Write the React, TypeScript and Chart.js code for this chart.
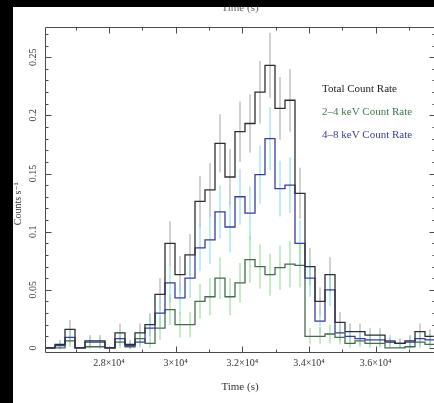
import React, { useEffect, useRef } from "react";
import { Chart, registerables } from "chart.js";

Chart.register(...registerables);

// ---- data (time bins in s, rates in counts/s) ----
const binStart = [
  26080, 26380, 26680, 26980, 27280, 27580, 27880, 28180, 28480, 28780,
  29080, 29380, 29680, 29980, 30280, 30580, 30880, 31180, 31480, 31780,
  32080, 32380, 32680, 32980, 33280, 33580, 33880, 34180, 34480, 34780,
  35080, 35380, 35680, 35980, 36280, 36580, 36880, 37180, 37480,
];
const BIN_WIDTH = 300;

const totalRate = [
  0, 0.003, 0.016, 0, 0.006, 0.006, 0, 0.013, 0.003, 0.013,
  0.020, 0.046, 0.090, 0.063, 0.080, 0.126, 0.136, 0.176, 0.147, 0.186,
  0.193, 0.220, 0.243, 0.206, 0.213, 0.133, 0.070, 0.040, 0.063, 0.022,
  0.014, 0.014, 0.011, 0.011, 0.005, 0.004, 0.006, 0.014, 0.010,
];
const totalErr = [
  0, 0.004, 0.008, 0, 0.005, 0.005, 0, 0.008, 0.004, 0.008,
  0.010, 0.014, 0.019, 0.016, 0.018, 0.022, 0.023, 0.025, 0.024, 0.026,
  0.025, 0.027, 0.028, 0.027, 0.027, 0.022, 0.016, 0.012, 0.015, 0.009,
  0.007, 0.007, 0.006, 0.006, 0.004, 0.004, 0.005, 0.007, 0.006,
];
const softRate = [
  0, 0, 0.006, 0, 0.001, 0.001, 0, 0.005, 0.001, 0.008,
  0.004, 0.017, 0.033, 0.020, 0.020, 0.040, 0.044, 0.060, 0.044, 0.056,
  0.076, 0.070, 0.063, 0.069, 0.072, 0.071, 0.010, 0.010, 0.012, 0.009,
  0.004, 0.006, 0.004, 0.004, 0, 0, 0.001, 0.005, 0.003,
];
const softErr = [
  0, 0, 0.005, 0, 0.002, 0.002, 0, 0.005, 0.002, 0.006,
  0.004, 0.010, 0.013, 0.011, 0.011, 0.015, 0.016, 0.018, 0.016, 0.017,
  0.020, 0.019, 0.018, 0.019, 0.020, 0.019, 0.007, 0.007, 0.008, 0.006,
  0.004, 0.005, 0.004, 0.004, 0, 0, 0.002, 0.005, 0.003,
];
const hardRate = [
  0, 0.002, 0.009, 0, 0.005, 0.005, 0, 0.008, 0.002, 0.005,
  0.017, 0.030, 0.056, 0.043, 0.060, 0.086, 0.093, 0.117, 0.104, 0.130,
  0.116, 0.149, 0.180, 0.137, 0.140, 0.090, 0.060, 0.023, 0.050, 0.013,
  0.010, 0.008, 0.007, 0.007, 0.006, 0.004, 0.005, 0.008, 0.007,
];
const hardErr = [
  0, 0.003, 0.006, 0, 0.004, 0.004, 0, 0.006, 0.003, 0.005,
  0.009, 0.012, 0.017, 0.014, 0.017, 0.020, 0.021, 0.023, 0.022, 0.024,
  0.023, 0.025, 0.027, 0.024, 0.024, 0.020, 0.016, 0.010, 0.014, 0.007,
  0.006, 0.006, 0.005, 0.005, 0.005, 0.004, 0.005, 0.006, 0.005,
];

const seriesLabels = ["Total Count Rate", "2\u20134 keV Count Rate", "4\u20138 keV Count Rate"];

const xMajorTicks = [28000, 30000, 32000, 34000, 36000];
const xTickLabels = ["2.8\u00d710\u2074", "3\u00d710\u2074", "3.2\u00d710\u2074", "3.4\u00d710\u2074", "3.6\u00d710\u2074"];
const xMinorTicks = [27000, 29000, 31000, 33000, 35000, 37000];
const yMajorTicks = [0, 0.05, 0.1, 0.15, 0.2, 0.25];
const yTickLabels = ["0", "0.05", "0.1", "0.15", "0.2", "0.25"];
const yMinorTicks = [
  0.01, 0.02, 0.03, 0.04, 0.06, 0.07, 0.08, 0.09, 0.11, 0.12, 0.13, 0.14,
  0.16, 0.17, 0.18, 0.19, 0.21, 0.22, 0.23, 0.24, 0.26, 0.27,
];

const X_MIN = 26080;
const X_MAX = 37780;
const Y_MIN = -0.0035;
const Y_MAX = 0.276;

const FONT = '"Liberation Serif", "DejaVu Serif", serif';

function stepPoints(rate: number[]) {
  const pts = binStart.map((t, i) => ({ x: t, y: rate[i] }));
  pts.push({ x: binStart[binStart.length - 1] + BIN_WIDTH, y: rate[rate.length - 1] });
  return pts;
}

function errPoints(rate: number[], err: number[]) {
  const pts: { x: number; y: number | null }[] = [];
  binStart.forEach((t, i) => {
    if (err[i] <= 0) return;
    const c = t + BIN_WIDTH / 2;
    pts.push({ x: c, y: rate[i] - err[i] });
    pts.push({ x: c, y: rate[i] + err[i] });
    pts.push({ x: c, y: null });
  });
  return pts;
}

const framePlugin = {
  id: "frameAxes",
  afterDatasetsDraw(chart: any) {
    const { ctx, chartArea: a, scales } = chart;
    const xs = scales.x;
    const ys = scales.y;
    ctx.save();
    ctx.strokeStyle = "#4a4a4a";
    ctx.lineWidth = 1;
    const L = Math.round(a.left) + 0.5;
    const R = Math.round(a.right) + 0.5;
    const T = Math.round(a.top) + 0.5;
    const B = Math.round(a.bottom) + 0.5;
    ctx.beginPath();
    ctx.rect(L, T, R - L, B - T);
    ctx.stroke();
    const seg = (x1: number, y1: number, x2: number, y2: number) => {
      ctx.beginPath();
      ctx.moveTo(x1, y1);
      ctx.lineTo(x2, y2);
      ctx.stroke();
    };
    const xTick = (v: number, len: number) => {
      const px = Math.round(xs.getPixelForValue(v)) + 0.5;
      seg(px, B, px, B - len);
      seg(px, T, px, T + len);
    };
    const yTick = (v: number, len: number) => {
      const py = Math.round(ys.getPixelForValue(v)) + 0.5;
      seg(L, py, L + len, py);
      seg(R, py, R - len, py);
    };
    xMajorTicks.forEach((v) => xTick(v, 6));
    xMinorTicks.forEach((v) => xTick(v, 3));
    yMajorTicks.forEach((v) => yTick(v, 6));
    yMinorTicks.forEach((v) => yTick(v, 3));

    // tick labels
    ctx.fillStyle = "#333";
    ctx.font = `10px ${FONT}`;
    ctx.textAlign = "center";
    ctx.textBaseline = "middle";
    xMajorTicks.forEach((v, i) => {
      ctx.fillText(xTickLabels[i], xs.getPixelForValue(v), a.bottom + 11);
    });
    yMajorTicks.forEach((v, i) => {
      ctx.save();
      ctx.translate(a.left - 12, ys.getPixelForValue(v));
      ctx.rotate(-Math.PI / 2);
      ctx.fillText(yTickLabels[i], 0, 0);
      ctx.restore();
    });

    // axis titles
    const cx = (a.left + a.right) / 2;
    ctx.font = `11px ${FONT}`;
    ctx.fillStyle = "#333";
    ctx.fillText("Time (s)", cx, a.bottom + 35);
    ctx.fillStyle = "#666";
    ctx.textBaseline = "alphabetic";
    ctx.fillText("Time (s)", cx, 4);
    ctx.save();
    ctx.fillStyle = "#333";
    ctx.textBaseline = "middle";
    ctx.font = `10px ${FONT}`;
    ctx.translate(a.left - 27, ys.getPixelForValue(0.124));
    ctx.rotate(-Math.PI / 2);
    ctx.fillText("Counts s\u207b\u00b9", 0, 0);
    ctx.restore();

    // legend text
    const legendColors = ["#222222", "#3d7a4d", "#3b3b9c"];
    ctx.font = `11px ${FONT}`;
    ctx.textAlign = "left";
    ctx.textBaseline = "middle";
    seriesLabels.forEach((lab, i) => {
      ctx.fillStyle = legendColors[i];
      ctx.fillText(lab, 309, 82 + i * 23);
    });
    ctx.restore();
  },
};

export default function App() {
  const ref = useRef<HTMLCanvasElement | null>(null);
  useEffect(() => {
    if (!ref.current) return;
    const errStyle = (color: string) => ({
      type: "line" as const,
      borderColor: color,
      borderWidth: 1,
      pointRadius: 0,
      spanGaps: false,
      fill: false,
    });
    const stepStyle = (color: string) => ({
      type: "line" as const,
      borderColor: color,
      borderWidth: 1.3,
      pointRadius: 0,
      stepped: "before" as const,
      fill: false,
    });
    const chart = new Chart(ref.current, {
      type: "line",
      data: {
        datasets: [
          { label: seriesLabels[0], data: stepPoints(totalRate), ...stepStyle("#2e2e2e"), order: 0 },
          { label: seriesLabels[2], data: stepPoints(hardRate), ...stepStyle("#3a3aa0"), order: 1 },
          { label: seriesLabels[1], data: stepPoints(softRate), ...stepStyle("#456a50"), order: 2 },
          { label: "total err", data: errPoints(totalRate, totalErr) as any, ...errStyle("#a3a3a3"), order: 5 },
          { label: "hard err", data: errPoints(hardRate, hardErr) as any, ...errStyle("#80dbe9"), order: 4 },
          { label: "soft err", data: errPoints(softRate, softErr) as any, ...errStyle("#8ed88e"), order: 3 },
        ],
      },
      options: {
        animation: false,
        responsive: false,
        maintainAspectRatio: false,
        devicePixelRatio: 1,
        layout: { padding: { left: 32, top: 20, right: 8, bottom: 51 } },
        scales: {
          x: { type: "linear", min: X_MIN, max: X_MAX, display: false },
          y: { type: "linear", min: Y_MIN, max: Y_MAX, display: false },
        },
        plugins: { legend: { display: false }, tooltip: { enabled: false } },
        events: [],
      },
      plugins: [framePlugin],
    });
    return () => chart.destroy();
  }, []);

  return (
    <div style={{ position: "fixed", left: 0, top: 0, width: 434, height: 403, background: "#000", overflow: "hidden" }}>
      <div style={{ position: "absolute", left: 13, top: 7, width: 421, height: 396, background: "#fff", overflow: "hidden" }}>
        <canvas ref={ref} width={430} height={396} style={{ display: "block", width: 430, height: 396 }} />
      </div>
    </div>
  );
}
